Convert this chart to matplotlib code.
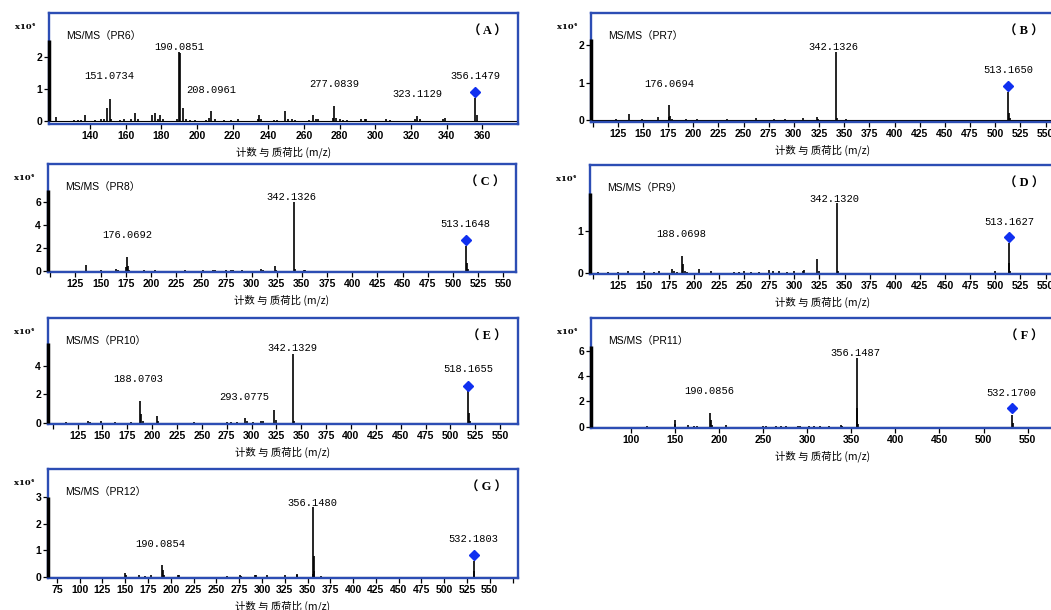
import matplotlib
matplotlib.use('Agg')
import matplotlib.pyplot as plt

plt.rcParams['font.family'] = ['Liberation Sans', 'Noto Sans CJK SC', 'DejaVu Sans']

W, H = 1051, 610
FRAME_BLUE = '#2c4db4'
DIAMOND_BLUE = '#1030f0'

# ---- spectra: m/z and counts (x10^4) ----
pr6_mz = [121, 131, 133, 135, 137, 143, 146, 148, 149.5, 151.07, 152, 157, 159, 163, 165, 167,
          175, 176.5, 178, 179.5, 181, 189, 190.09, 190.6, 191.9, 194, 196, 199, 205, 207, 208.1,
          210, 215, 219, 223, 234, 235, 236, 243, 245, 249.5, 251, 253, 255, 263, 265, 267, 268,
          276, 277.08, 278, 280, 282, 284, 292, 294, 295, 306, 308, 322, 323.1, 325, 338, 339,
          356.15, 357]
pr6_int = [0.12, 0.03, 0.03, 0.04, 0.18, 0.04, 0.05, 0.06, 0.40, 0.70, 0.08, 0.04, 0.05, 0.06,
           0.25, 0.05, 0.18, 0.25, 0.05, 0.18, 0.05, 0.06, 2.15, 2.10, 0.40, 0.05, 0.03, 0.03,
           0.04, 0.10, 0.30, 0.05, 0.04, 0.04, 0.05, 0.05, 0.20, 0.08, 0.04, 0.04, 0.32, 0.05,
           0.05, 0.04, 0.04, 0.18, 0.05, 0.08, 0.10, 0.47, 0.10, 0.05, 0.04, 0.03, 0.05, 0.06,
           0.08, 0.05, 0.03, 0.08, 0.15, 0.05, 0.05, 0.10, 0.71, 0.20]

pr7_mz = [123, 136, 149, 151, 165, 175.5, 176.07, 177, 179, 193, 204, 234, 262, 280, 291, 309,
          323, 324, 342.13, 343, 352, 513.17, 514, 515]
pr7_int = [0.03, 0.16, 0.03, 0.02, 0.08, 0.10, 0.40, 0.12, 0.03, 0.04, 0.04, 0.04, 0.07, 0.03,
           0.03, 0.05, 0.08, 0.03, 1.81, 0.05, 0.04, 0.75, 0.20, 0.06]

pr8_mz = [136, 150, 165, 167, 175.5, 176.07, 177, 178, 193, 204, 234, 252, 262, 264, 275, 280,
          282, 291, 309, 311, 323, 324, 342.13, 343, 352, 353, 513.16, 514, 515]
pr8_int = [0.50, 0.05, 0.20, 0.05, 0.30, 1.24, 0.40, 0.10, 0.10, 0.10, 0.05, 0.05, 0.10, 0.05,
           0.05, 0.05, 0.05, 0.10, 0.15, 0.05, 0.43, 0.10, 6.00, 0.15, 0.10, 0.05, 2.16, 0.70, 0.15]

pr9_mz = [105, 115, 125, 135, 150, 160, 165, 178, 180, 183, 188.07, 189.5, 191, 193, 205, 217,
          240, 245, 250, 257, 265, 275, 279, 285, 293, 300, 309, 310, 323, 325, 342.13, 343,
          500, 513.16, 514, 515]
pr9_int = [0.03, 0.03, 0.03, 0.04, 0.04, 0.03, 0.04, 0.10, 0.06, 0.03, 0.41, 0.22, 0.05, 0.03,
           0.10, 0.04, 0.03, 0.03, 0.04, 0.03, 0.03, 0.08, 0.05, 0.04, 0.03, 0.04, 0.06, 0.08,
           0.33, 0.06, 1.64, 0.05, 0.06, 0.70, 0.25, 0.06]

pr10_mz = [113, 135, 137, 149, 163, 179, 188.07, 189, 191, 205, 206, 242, 275, 279, 285, 293.08,
           295, 301, 309, 311, 323, 325, 342.13, 343, 518.17, 519, 520]
pr10_int = [0.03, 0.10, 0.05, 0.10, 0.05, 0.05, 1.53, 0.65, 0.10, 0.45, 0.10, 0.05, 0.04, 0.05,
            0.04, 0.30, 0.15, 0.06, 0.10, 0.15, 0.90, 0.20, 4.83, 0.15, 2.24, 0.70, 0.15]

pr11_mz = [119, 150, 150.5, 165, 172, 175, 190.09, 191, 192, 208, 250, 253, 265, 270, 276, 290,
           292, 302, 308, 315, 325, 338, 340, 356.15, 357, 358, 532.17, 533]
pr11_int = [0.05, 0.20, 0.53, 0.10, 0.05, 0.05, 1.06, 0.55, 0.10, 0.15, 0.04, 0.03, 0.04, 0.05,
            0.05, 0.05, 0.05, 0.04, 0.04, 0.04, 0.05, 0.10, 0.05, 5.45, 1.45, 0.20, 0.92, 0.30]

pr12_mz = [150, 151, 165, 172, 178, 190.09, 191, 192, 208, 209, 262, 276, 277, 292, 294, 305,
           325, 338, 339, 355.6, 356.15, 356.7, 357.5, 365, 532.18, 533]
pr12_int = [0.15, 0.08, 0.05, 0.04, 0.05, 0.43, 0.25, 0.05, 0.08, 0.05, 0.04, 0.06, 0.03, 0.05,
            0.05, 0.06, 0.06, 0.10, 0.05, 0.10, 2.62, 0.80, 0.20, 0.04, 0.60, 0.20]

# annotated peaks (text, label anchor x, label anchor y)
pr6_labels = [('151.0734', 151.0, 1.40), ('190.0851', 190.3, 2.31), ('208.0961', 208.2, 0.96),
              ('277.0839', 277.0, 1.14), ('323.1129', 323.6, 0.83), ('356.1479', 356.2, 1.40)]
pr7_labels = [('176.0694', 176.0, 0.97), ('342.1326', 339.6, 1.94), ('513.1650', 513.4, 1.32)]
pr8_labels = [('176.0692', 176.1, 3.12), ('342.1326', 339.4, 6.38), ('513.1648', 512.8, 4.04)]
pr9_labels = [('188.0698', 187.9, 0.92), ('342.1320', 339.5, 1.74), ('513.1627', 514.3, 1.21)]
pr10_labels = [('188.0703', 186.5, 3.06), ('293.0775', 292.5, 1.84), ('342.1329', 341.5, 5.25),
               ('518.1655', 518.0, 3.77)]
pr11_labels = [('190.0856', 189.1, 2.82), ('356.1487', 354.8, 5.79), ('532.1700', 531.5, 2.68)]
pr12_labels = [('190.0854', 188.2, 1.24), ('356.1480', 355.6, 2.80), ('532.1803', 532.1, 1.41)]

# precursor ions (diamond)
precursors = {'PR6': (356.15, 0.91), 'PR7': (513.17, 0.90), 'PR8': (513.16, 2.70),
              'PR9': (513.16, 0.85), 'PR10': (518.17, 2.61), 'PR11': (532.17, 1.45),
              'PR12': (532.18, 0.82)}

panels = [
    dict(name='PR6', tag='A', mz=pr6_mz, inten=pr6_int, labels=pr6_labels,
         box=(49, 13, 518, 124), xlim=(117, 380), ylim=(-0.09, 3.35), ytop=2.5,
         xticks=list(range(140, 361, 20)), hide=[], yticks=[0, 1, 2]),
    dict(name='PR7', tag='B', mz=pr7_mz, inten=pr7_int, labels=pr7_labels,
         box=(591, 13, 1055, 122), xlim=(98.5, 559.4), ylim=(-0.045, 2.84), ytop=2.14,
         xticks=list(range(100, 551, 25)), hide=[100], yticks=[0, 1, 2]),
    dict(name='PR8', tag='C', mz=pr8_mz, inten=pr8_int, labels=pr8_labels,
         box=(48, 164, 516, 272), xlim=(97.8, 562.7), ylim=(-0.09, 9.26), ytop=7.0,
         xticks=list(range(100, 551, 25)), hide=[100], yticks=[0, 2, 4, 6]),
    dict(name='PR9', tag='D', mz=pr9_mz, inten=pr9_int, labels=pr9_labels,
         box=(590, 165, 1055, 274), xlim=(96.7, 559.4), ylim=(-0.02, 2.54), ytop=1.88,
         xticks=list(range(100, 551, 25)), hide=[100], yticks=[0, 1]),
    dict(name='PR10', tag='E', mz=pr10_mz, inten=pr10_int, labels=pr10_labels,
         box=(48, 318, 518, 424), xlim=(95.2, 568), ylim=(-0.09, 7.39), ytop=5.6,
         xticks=list(range(100, 551, 25)), hide=[100], yticks=[0, 2, 4]),
    dict(name='PR11', tag='F', mz=pr11_mz, inten=pr11_int, labels=pr11_labels,
         box=(591, 318, 1055, 428), xlim=(55.1, 581), ylim=(-0.1, 8.58), ytop=6.37,
         xticks=list(range(100, 551, 50)), hide=[], yticks=[0, 2, 4, 6]),
    dict(name='PR12', tag='G', mz=pr12_mz, inten=pr12_int, labels=pr12_labels,
         box=(48, 469, 518, 578), xlim=(65.2, 581), ylim=(-0.05, 4.07), ytop=3.0,
         xticks=list(range(75, 576, 25)), hide=[575], yticks=[0, 1, 2, 3]),
]

fig = plt.figure(figsize=(W / 100, H / 100), dpi=100)


def fx(px):
    return px / W


def fy(py):
    return 1 - py / H


for p in panels:
    l, t, r, b = p['box']
    ax = fig.add_axes([fx(l), fy(b), (r - l) / W, (b - t) / H])
    ax.vlines(p['mz'], 0, p['inten'], colors='black', linewidth=1.2)
    ax.axhline(0, color='black', lw=0.8)
    ax.set_xlim(*p['xlim'])
    ax.set_ylim(*p['ylim'])
    for sp in ax.spines.values():
        sp.set_color(FRAME_BLUE)
        sp.set_linewidth(1.7)
    x0 = p['xlim'][0]
    ax.plot([x0, x0], [0, p['ytop']], color='black', lw=2.5, clip_on=False,
            zorder=5, solid_capstyle='butt')
    pm, py = precursors[p['name']]
    ax.plot([pm], [py], marker='D', color=DIAMOND_BLUE, ms=5.5, zorder=6)
    for s, x, y in p['labels']:
        ax.text(x, y, s, ha='center', va='center', family='Liberation Mono', fontsize=7.5)

    ax.set_xticks(p['xticks'])
    ax.set_xticklabels(['' if v in p['hide'] else str(v) for v in p['xticks']])
    ax.set_yticks(p['yticks'])
    ax.set_yticklabels([str(v) for v in p['yticks']])
    ax.tick_params(axis='both', direction='out', length=3.5, width=0.9, color='black',
                   labelsize=7.5, pad=1.5)
    for lbl in ax.get_xticklabels() + ax.get_yticklabels():
        lbl.set_fontweight('bold')

    fig.text(fx(l - 14), fy(t + 14), 'x10⁴', ha='right', va='center', fontsize=6,
             family='DejaVu Serif', fontweight='bold')
    fig.text(fx(l + 17), fy(t + 23), 'MS/MS（' + p['name'] + '）', ha='left', va='center',
             fontsize=7.5, family=['Liberation Sans', 'Noto Sans CJK SC'])
    fig.text(fx(r - 31), fy(t + 19), '（ ' + p['tag'] + ' ）', ha='center', va='center',
             fontsize=9, fontweight='bold', family=['Liberation Serif', 'Noto Sans CJK SC'])
    fig.text(fx((l + r) / 2), fy(b + 28), '计数 与 质荷比 (m/z)', ha='center', va='center',
             fontsize=7.5, family=['Noto Sans CJK SC', 'DejaVu Sans'])

fig.savefig('out.png', dpi=100)
